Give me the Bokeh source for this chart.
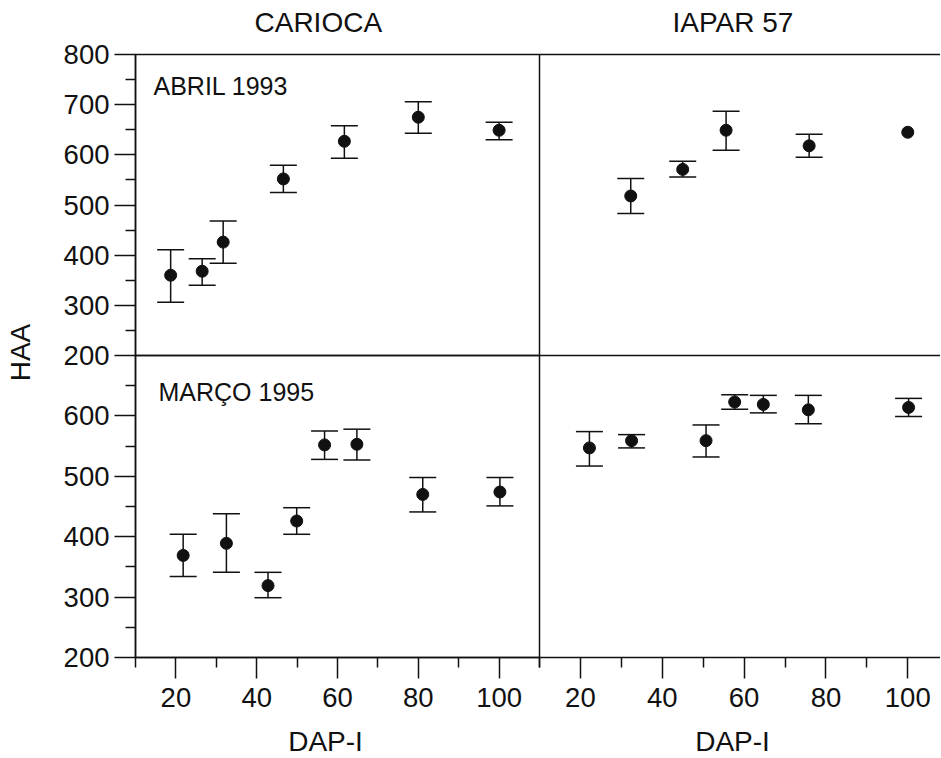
import math
from bokeh.plotting import figure
from bokeh.models import (Range1d, LinearAxis, FixedTicker, Label, BoxAnnotation,
                          Whisker, TeeHead, ColumnDataSource)
from bokeh.embed import file_html
from bokeh.resources import INLINE

# ---------------- data ----------------
col_titles = ["CARIOCA", "IAPAR 57"]
row_titles = ["ABRIL 1993", "MARÇO 1995"]
y_label = "HAA"
x_label = "DAP-I"

# CARIOCA, ABRIL 1993
tl_dap = [18.7, 26.5, 31.7, 46.6, 61.7, 80.0, 100.0]
tl_haa = [360, 368, 426, 552, 627, 675, 649]
tl_lo = [306, 340, 384, 525, 593, 643, 630]
tl_hi = [411, 393, 468, 579, 658, 706, 665]

# IAPAR 57, ABRIL 1993
tr_dap = [32.3, 45.0, 55.6, 75.9, 100.0]
tr_haa = [518, 571, 649, 618, 645]
tr_lo = [483, 556, 609, 595, None]
tr_hi = [553, 587, 687, 641, None]

# CARIOCA, MARCO 1995
bl_dap = [21.8, 32.5, 42.8, 49.9, 56.8, 64.8, 81.1, 100.2]
bl_haa = [369, 389, 319, 426, 552, 553, 470, 474]
bl_lo = [334, 341, 299, 404, 528, 527, 441, 451]
bl_hi = [404, 438, 341, 448, 575, 578, 498, 498]

# IAPAR 57, MARCO 1995
br_dap = [22.2, 32.5, 50.7, 57.7, 64.7, 75.7, 100.2]
br_haa = [547, 559, 559, 623, 619, 610, 614]
br_lo = [517, 547, 532, 611, 605, 587, 599]
br_hi = [574, 569, 585, 635, 634, 634, 629]

x_ticks = [20, 40, 60, 80, 100]
x_minor_left = [10, 30, 50, 70, 90, 110]
x_minor_right = [10, 30, 50, 70, 90]
top_ticks = [200, 300, 400, 500, 600, 700, 800]
top_minor = [250, 350, 450, 550, 650, 750]
bot_ticks = [200, 300, 400, 500, 600]
bot_minor = [250, 350, 450, 550, 650]

# ---------------- layout (pixels, from top-left) ----------------
W, H = 940, 758
FL, FR, FT, FB = 135, 940, 54, 657   # outer edges of the panel block
DX, DY = 539, 355                     # panel dividers

XL_DOM = (10, 110)
XR_DOM = (10, 108)
YT_DOM = (200, 800)
YB_DOM = (200, 700)


def full_range(dom, p0, p1, q0, q1):
    """dom maps to pixels p0..p1; return a range spanning pixels q0..q1."""
    d0, d1 = dom
    k = (d1 - d0) / (p1 - p0)
    return Range1d(d0 + (q0 - p0) * k, d0 + (q1 - p0) * k)


FONT = "Liberation Sans"
INK = "#111111"

# the plotting frame covers the whole canvas; each panel gets its own
# x/y range that maps its domain onto its sub-rectangle
p = figure(width=W, height=H, x_range=Range1d(0, W), y_range=Range1d(H, 0),
           output_backend="svg", toolbar_location=None,
           x_axis_location=None, y_axis_location=None,
           min_border=0, min_border_left=0, min_border_right=0,
           min_border_top=0, min_border_bottom=0,
           outline_line_color=None, background_fill_color="white",
           border_fill_color="white")
p.grid.visible = False

p.extra_x_ranges = {
    "xl": full_range(XL_DOM, FL, DX, 0, W),
    "xr": full_range(XR_DOM, DX, FR, 0, W),
}
p.extra_y_ranges = {
    "yt": full_range(YT_DOM, DY, FT, H, 0),
    "yb": full_range(YB_DOM, FB, DY, H, 0),
}

# panel borders
for yn, dom in (("yt", YT_DOM), ("yb", YB_DOM)):
    p.add_layout(BoxAnnotation(left=XL_DOM[0], right=XL_DOM[1], bottom=dom[0], top=dom[1],
                               x_range_name="xl", y_range_name=yn,
                               fill_color=None, fill_alpha=0,
                               line_color=INK, line_alpha=1.0, line_width=1.5))
p.segment(x0=[XR_DOM[0], XR_DOM[0]], x1=[XR_DOM[1], XR_DOM[1]],
          y0=[YT_DOM[1], YT_DOM[0]], y1=[YT_DOM[1], YT_DOM[0]],
          x_range_name="xr", y_range_name="yt", line_color=INK, line_width=1.5)

panels = [
    ("xl", "yt", tl_dap, tl_haa, tl_lo, tl_hi),
    ("xr", "yt", tr_dap, tr_haa, tr_lo, tr_hi),
    ("xl", "yb", bl_dap, bl_haa, bl_lo, bl_hi),
    ("xr", "yb", br_dap, br_haa, br_lo, br_hi),
]

for xn, yn, dap, haa, lo, hi in panels:
    rows = [(d, l, h) for d, l, h in zip(dap, lo, hi) if l is not None]
    src = ColumnDataSource(dict(base=[r[0] for r in rows],
                                lower=[r[1] for r in rows],
                                upper=[r[2] for r in rows]))
    w = Whisker(base="base", lower="lower", upper="upper", source=src,
                dimension="height", x_range_name=xn, y_range_name=yn,
                line_color=INK, line_width=1.5,
                upper_head=TeeHead(size=27, line_color=INK, line_width=1.5),
                lower_head=TeeHead(size=27, line_color=INK, line_width=1.5))
    p.add_layout(w)
    p.scatter(x=dap, y=haa, size=12, fill_color=INK, line_color=INK,
              x_range_name=xn, y_range_name=yn)


def style_axis(ax, standoff):
    ax.axis_line_color = INK
    ax.axis_line_width = 1.5
    ax.major_tick_line_color = INK
    ax.major_tick_line_width = 1.5
    ax.minor_tick_line_color = INK
    ax.minor_tick_line_width = 1.5
    ax.major_tick_in = 0
    ax.major_tick_out = 21
    ax.minor_tick_in = 0
    ax.minor_tick_out = 10
    ax.major_label_standoff = standoff
    ax.major_label_text_font = FONT
    ax.major_label_text_font_size = "27.5px"
    ax.major_label_text_color = INK


ay_t = LinearAxis(x_range_name="xl", y_range_name="yt", fixed_location=XL_DOM[0],
                  bounds=YT_DOM, ticker=FixedTicker(ticks=top_ticks, minor_ticks=top_minor))
ay_b = LinearAxis(x_range_name="xl", y_range_name="yb", fixed_location=XL_DOM[0],
                  bounds=YB_DOM, ticker=FixedTicker(ticks=bot_ticks, minor_ticks=bot_minor))
ax_l = LinearAxis(x_range_name="xl", y_range_name="yb", fixed_location=YB_DOM[0],
                  bounds=XL_DOM, ticker=FixedTicker(ticks=x_ticks, minor_ticks=x_minor_left))
ax_r = LinearAxis(x_range_name="xr", y_range_name="yb", fixed_location=YB_DOM[0],
                  bounds=XR_DOM, ticker=FixedTicker(ticks=x_ticks, minor_ticks=x_minor_right))
for ax in (ay_t, ay_b):
    style_axis(ax, 5)
    p.add_layout(ax, "left")
for ax in (ax_l, ax_r):
    style_axis(ax, 9)
    p.add_layout(ax, "below")


def label(x, y, text, size, align="left", angle=0.0):
    p.add_layout(Label(x=x, y=y, text=text, text_font=FONT, text_font_size=size,
                       text_color=INK, text_align=align,
                       text_baseline="alphabetic", angle=angle))


label(254, 22, col_titles[0], "28px")
label(672, 22, col_titles[1], "28px")
label(153, 85, row_titles[0], "25px")
label(158, 391, row_titles[1], "25px")
label(325, 741, x_label, "28px", align="center")
label(732, 741, x_label, "28px", align="center")
label(20, 352, y_label, "28px", align="center", angle=math.pi / 2)

open("out.html", "w").write(file_html(p, INLINE))
